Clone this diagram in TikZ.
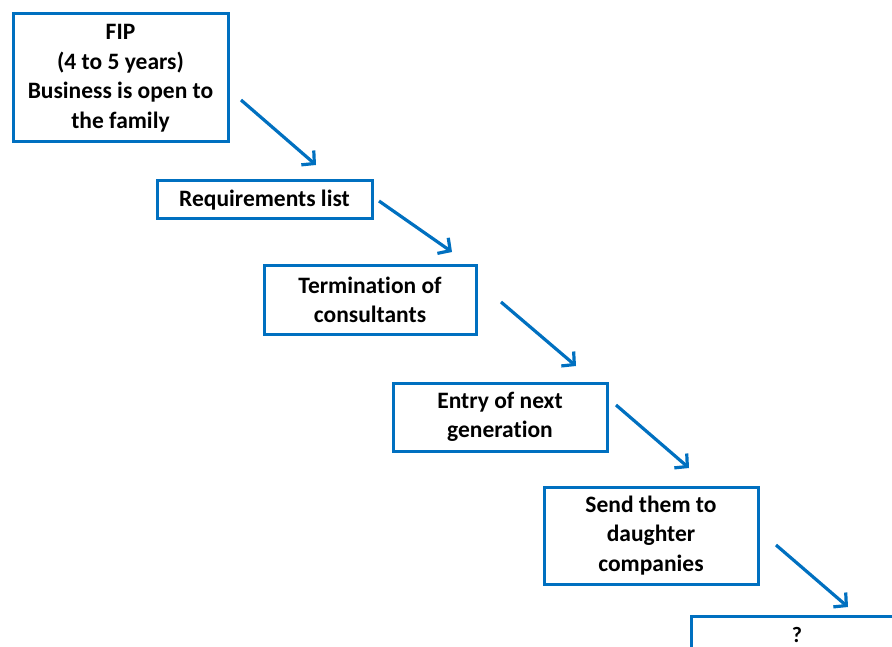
\documentclass[tikz,border=0pt]{standalone}
\usepackage{fontspec}
\setmainfont{Carlito}[Ligatures={NoCommon}]
\usetikzlibrary{arrows.meta}
\definecolor{stepblue}{RGB}{0,112,192}
\begin{document}
\begin{tikzpicture}[x=1pt,y=-1pt,
  stepbox/.style={draw=stepblue, line width=3pt, rectangle, inner sep=0pt,
    align=center, font=\fontsize{23.5}{29.5}\selectfont\bfseries},
  flow/.style={draw=stepblue, line width=3.2pt,
    -{Straight Barb[length=9pt,width=19pt,line width=3.2pt]}}]
  \useasboundingbox (0,0) rectangle (892,647);
  \clip (0,0) rectangle (892,647);
  % process boxes
  \node[stepbox, minimum width=215pt, minimum height=128pt] (fip) at (120.5,78)
    {FIP\\(4 to 5 years)\\Business is open to\\the family};
  \node[stepbox, minimum width=215pt, minimum height=38pt] (req) at (264.5,200)
    {Requirements list};
  \node[stepbox, minimum width=212pt, minimum height=68pt] (term) at (370,300)
    {Termination of\\consultants};
  \node[stepbox, minimum width=214pt, minimum height=68pt] (entry) at (500,417)
    {Entry of next\\generation};
  \node[stepbox, minimum width=214pt, minimum height=97pt] (send) at (651,535.5)
    {Send them to\\daughter\\companies};
  \node[stepbox, minimum width=240pt, minimum height=70pt, anchor=north west,
    text height=0pt] (next) at (690,615) {};
  \node[font=\fontsize{22}{28}\selectfont\bfseries, inner sep=0pt,
    anchor=base] (qmark) at (797,642) {?};
  % arrow end points
  \coordinate (a1s) at (241,100); \coordinate (a1e) at (316,165);
  \coordinate (a2s) at (379,201); \coordinate (a2e) at (452,252);
  \coordinate (a3s) at (501,302); \coordinate (a3e) at (576,366);
  \coordinate (a4s) at (616,405); \coordinate (a4e) at (689,468);
  \coordinate (a5s) at (776,545); \coordinate (a5e) at (848,607);
  \draw[flow] (a1s) -- (a1e);
  \draw[flow] (a2s) -- (a2e);
  \draw[flow] (a3s) -- (a3e);
  \draw[flow] (a4s) -- (a4e);
  \draw[flow] (a5s) -- (a5e);
\end{tikzpicture}
\end{document}
